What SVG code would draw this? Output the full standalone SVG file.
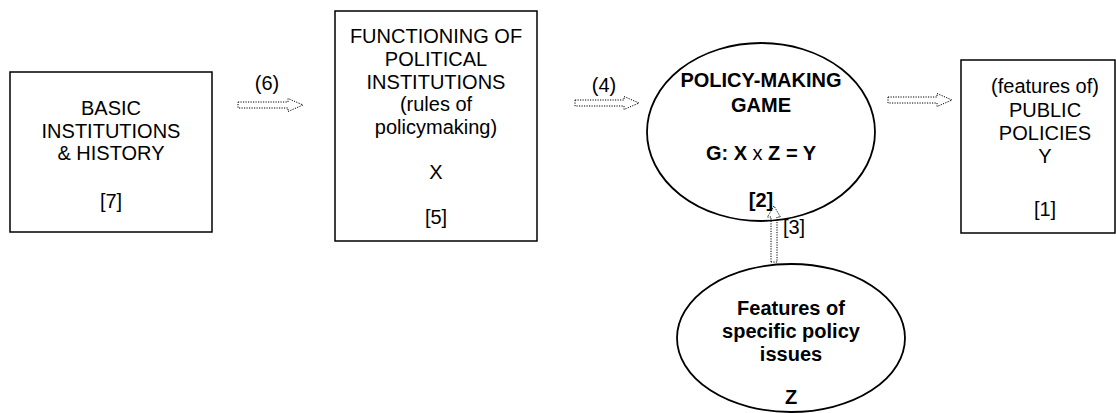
<svg xmlns="http://www.w3.org/2000/svg" width="1116" height="413" viewBox="0 0 1116 413">
<style>
.box{fill:#fff;stroke:#000;stroke-width:1.5}
.ell{fill:#fff;stroke:#000;stroke-width:1.8}
.t{font-family:"Liberation Sans",Arial,Helvetica,sans-serif;font-size:20px;text-anchor:middle;fill:#000}
.b{font-weight:bold}
.n{font-weight:normal}
.arr{fill:none;stroke:#000;stroke-width:1;stroke-dasharray:1.2 1.3}
</style>
<rect width="1116" height="413" fill="#fff"/>
<g id="basic">
<rect class="box" x="10" y="72" width="202" height="160"/>
<text class="t" x="111" y="115">BASIC</text>
<text class="t" x="111" y="138">INSTITUTIONS</text>
<text class="t" x="111" y="160">&amp; HISTORY</text>
<text class="t" x="111" y="208">[7]</text>
</g>
<g id="functioning">
<rect class="box" x="335" y="11" width="202" height="230"/>
<text class="t" x="436" y="43">FUNCTIONING OF</text>
<text class="t" x="436" y="66">POLITICAL</text>
<text class="t" x="436" y="89">INSTITUTIONS</text>
<text class="t" x="436" y="111">(rules of</text>
<text class="t" x="436" y="134">policymaking)</text>
<text class="t" x="436" y="179">X</text>
<text class="t" x="436" y="224">[5]</text>
</g>
<g id="game">
<ellipse class="ell" cx="761" cy="132" rx="114" ry="89"/>
<text class="t b" x="761" y="87">POLICY-MAKING</text>
<text class="t b" x="761" y="112">GAME</text>
<text class="t b" x="761" y="160">G: X <tspan class="n">x</tspan> Z = Y</text>
<text class="t b" x="761" y="207">[2]</text>
</g>
<g id="policies">
<rect class="box" x="961" y="60" width="154" height="173"/>
<text class="t" x="1045" y="93">(features of)</text>
<text class="t" x="1045" y="117">PUBLIC</text>
<text class="t" x="1045" y="140">POLICIES</text>
<text class="t" x="1045" y="163">Y</text>
<text class="t" x="1045" y="216">[1]</text>
</g>
<g id="issues">
<ellipse class="ell" cx="791" cy="338" rx="114" ry="74"/>
<text class="t b" x="791" y="315">Features of</text>
<text class="t b" x="791" y="338">specific policy</text>
<text class="t b" x="791" y="361">issues</text>
<text class="t b" x="791" y="404">Z</text>
</g>
<g id="connectors">
<path class="arr" d="M238,102 H288 V98.5 L303,105 L288,111.5 V108 H238 Z"/>
<text class="t" x="267" y="90">(6)</text>
<path class="arr" d="M575,100 H624 V96.5 L639,103 L624,109.5 V106 H575 Z"/>
<text class="t" x="604" y="92">(4)</text>
<path class="arr" d="M888,97 H937 V93.5 L952,100 L937,106.5 V103 H888 Z"/>
<path class="arr" d="M771,262 V217 H767.5 L774,206 L780.5,217 H777 V262 Z"/>
<text class="t" x="794" y="234">[3]</text>
</g>
</svg>
